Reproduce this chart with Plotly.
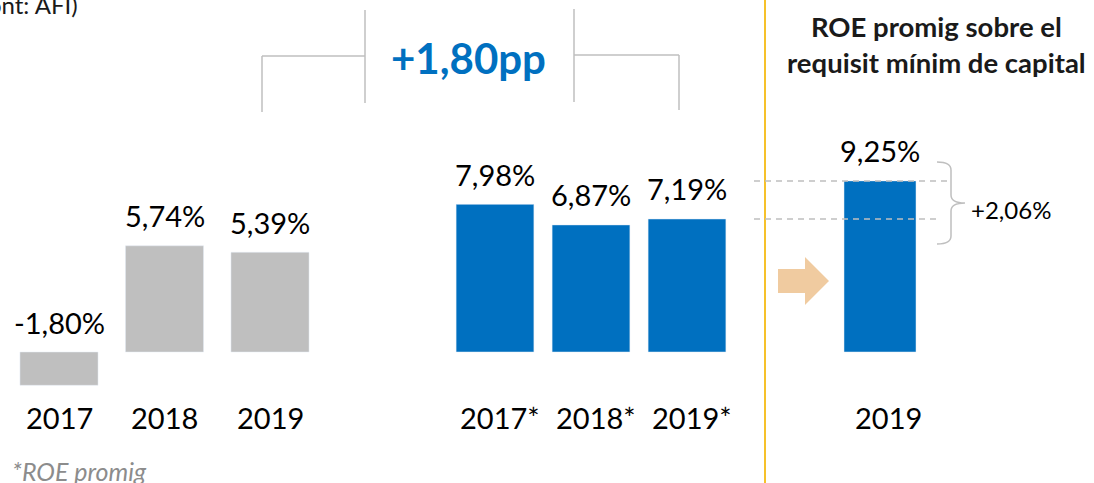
import plotly.graph_objects as go

# ---------------- data ----------------
hist_years = ["2017", "2018", "2019"]
hist_roe = [-1.80, 5.74, 5.39]

avg_years = ["2017*", "2018*", "2019*"]
avg_roe = [7.98, 6.87, 7.19]

req_years = ["2019"]
req_roe = [9.25]

diff_pp = 1.80        # +1,80pp
diff_req = 2.06       # +2,06%

title_right = "ROE promig sobre el<br>requisit mínim de capital"
footnote = "*ROE promig"
source = "(Font: AFI)"

# ---------------- layout helpers ----------------
W, H = 1094, 483
GRAY = "#BFBFBF"
BLUE = "#0070C0"
LINE = "#BFBFBF"
GOLD = "#F6C12A"
ARROW = "#F0CBA0"
FONT = "Lato"


def fx(x):
    return x / W


def fy(y):
    return 1 - y / H


def fmt(v, sign=False):
    s = f"{v:+.2f}" if sign else f"{v:.2f}"
    return s.replace(".", ",")


# y scale: baseline at 352px, ~18.5 px per point
base_px = 352
ppu = 18.5
y_range = [-(H - base_px) / ppu, base_px / ppu]

fig = go.Figure()
fig.add_trace(go.Bar(x=hist_years, y=hist_roe, marker_color=GRAY, width=0.74,
                     xaxis="x", yaxis="y", hoverinfo="skip"))
fig.add_trace(go.Bar(x=avg_years, y=avg_roe, marker_color=BLUE, width=0.81,
                     xaxis="x2", yaxis="y", hoverinfo="skip"))
fig.add_trace(go.Bar(x=req_years, y=req_roe, marker_color=BLUE, width=0.72,
                     xaxis="x3", yaxis="y", hoverinfo="skip"))

ax_common = dict(visible=False, showgrid=False, zeroline=False, type="category", fixedrange=True)
annotations = []
shapes = []

# value + category labels (x given as category index)
groups = [("x", hist_years, hist_roe, 0), ("x2", avg_years, avg_roe, 5), ("x3", req_years, req_roe, 8)]
for xref, cats, vals, cshift in groups:
    for i, (c, v) in enumerate(zip(cats, vals)):
        annotations.append(dict(x=i, y=max(v, 0), xref=xref, yref="y", text=fmt(v) + "%",
                                showarrow=False, yanchor="middle", yshift=30,
                                font=dict(family=FONT, size=29, color="#000000")))
        annotations.append(dict(x=i, y=fy(417), xref=xref, yref="paper", text=c,
                                showarrow=False, yanchor="middle", xshift=cshift,
                                font=dict(family=FONT, size=29, color="#000000")))

# top "+1,80pp" bracket
annotations.append(dict(x=fx(468), y=fy(58), xref="paper", yref="paper",
                        text=f"<b>{fmt(diff_pp, sign=True)}pp</b>", showarrow=False,
                        xanchor="center", yanchor="middle",
                        font=dict(family=FONT, size=42, color=BLUE)))
for (x0, y0, x1, y1) in [(262, 112, 262, 56), (262, 56, 365, 56), (365, 10, 365, 103),
                         (574, 9, 574, 102), (574, 55, 679, 55), (679, 55, 679, 110)]:
    shapes.append(dict(type="line", xref="paper", yref="paper",
                       x0=fx(x0), y0=fy(y0), x1=fx(x1), y1=fy(y1),
                       line=dict(color=LINE, width=1.5)))

# right title
annotations.append(dict(x=fx(936), y=fy(45), xref="paper", yref="paper",
                        text=f"<b>{title_right}</b>", showarrow=False,
                        xanchor="center", yanchor="middle",
                        font=dict(family=FONT, size=27.5, color="#1a1a1a")))

# gold separator
shapes.append(dict(type="line", xref="paper", yref="paper", x0=fx(765), x1=fx(765),
                   y0=0, y1=1, line=dict(color=GOLD, width=2)))

# dashed reference levels (9,25% and 7,19%)
for lvl, xend in [(req_roe[0], 947), (avg_roe[2], 938)]:
    shapes.append(dict(type="line", xref="paper", yref="y", x0=fx(754), x1=fx(xend),
                       y0=lvl, y1=lvl, layer="above",
                       line=dict(color=LINE, width=1.5, dash="6px,5px")))

# curly brace
def P(x, y):
    return f"{fx(x):.5f},{fy(y):.5f}"

brace = (f"M{P(937,162)} Q{P(951,162)} {P(951,170)} L{P(951,195)} "
         f"Q{P(951,203)} {P(965,203)} Q{P(951,203)} {P(951,211)} "
         f"L{P(951,236)} Q{P(951,244)} {P(937,244)}")
shapes.append(dict(type="path", xref="paper", yref="paper", path=brace,
                   line=dict(color=LINE, width=1.5)))
annotations.append(dict(x=fx(969), y=fy(210), xref="paper", yref="paper",
                        text=fmt(diff_req, sign=True) + "%", showarrow=False,
                        xanchor="left", yanchor="middle",
                        font=dict(family=FONT, size=24, color="#000000")))

# arrow
arrow = (f"M{P(778,269)} L{P(805,269)} L{P(805,257)} L{P(829,281)} "
         f"L{P(805,305)} L{P(805,293)} L{P(778,293)} Z")
shapes.append(dict(type="path", xref="paper", yref="paper", path=arrow,
                   fillcolor=ARROW, line=dict(width=0)))

# footnote and source
annotations.append(dict(x=fx(10), y=fy(471), xref="paper", yref="paper",
                        text=f"<i>{footnote}</i>", showarrow=False,
                        xanchor="left", yanchor="middle",
                        font=dict(family=FONT, size=25, color="#8C8C8C")))
annotations.append(dict(x=fx(80), y=fy(21), xref="paper", yref="paper",
                        text=source, showarrow=False,
                        xanchor="right", yanchor="bottom",
                        font=dict(family=FONT, size=24, color="#1a1a1a")))

fig.update_layout(
    width=W, height=H,
    margin=dict(l=0, r=0, t=0, b=0),
    paper_bgcolor="white", plot_bgcolor="white",
    showlegend=False,
    xaxis=dict(domain=[fx(6.25), fx(322.75)], range=[-0.5, 2.5], anchor="y", **ax_common),
    xaxis2=dict(domain=[fx(447), fx(735)], range=[-0.5, 2.5], anchor="y", **ax_common),
    xaxis3=dict(domain=[fx(830), fx(930)], range=[-0.5, 0.5], anchor="y", **ax_common),
    yaxis=dict(range=y_range, visible=False, showgrid=False, zeroline=False, fixedrange=True),
    annotations=annotations,
    shapes=shapes,
)

fig.write_html("out.html", config={"displayModeBar": False},
               post_script="document.body.style.margin='0';document.body.style.overflow='hidden';")
